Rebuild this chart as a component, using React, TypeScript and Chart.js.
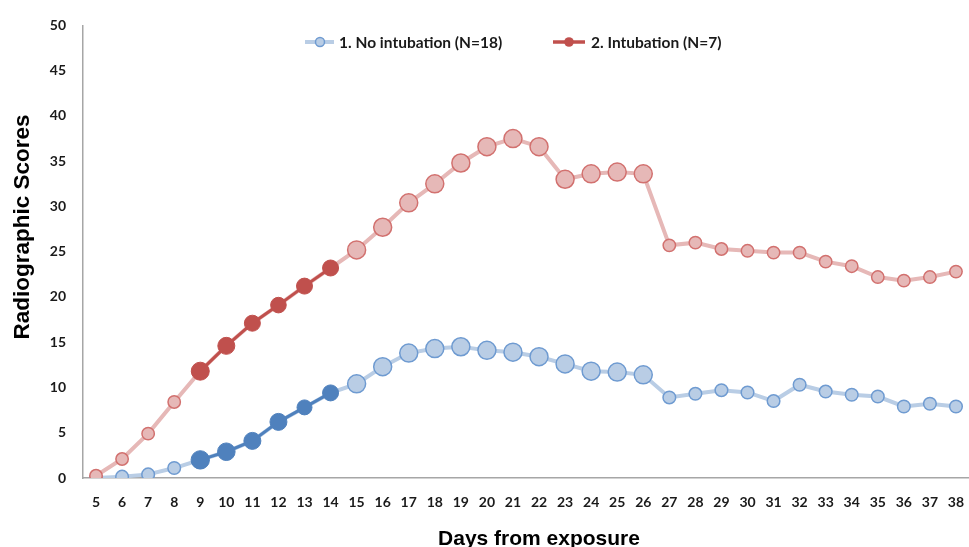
import React, { useEffect, useRef } from "react";
import { Chart, registerables } from "chart.js";

Chart.register(...registerables);

const days = [5, 6, 7, 8, 9, 10, 11, 12, 13, 14, 15, 16, 17, 18, 19, 20, 21, 22, 23, 24, 25, 26, 27, 28, 29, 30, 31, 32, 33, 34, 35, 36, 37, 38];
const noIntubation = [0, 0.15, 0.4, 1.1, 2.0, 2.9, 4.1, 6.2, 7.8, 9.4, 10.4, 12.3, 13.8, 14.3, 14.5, 14.1, 13.9, 13.4, 12.6, 11.8, 11.7, 11.4, 8.9, 9.3, 9.7, 9.45, 8.5, 10.3, 9.55, 9.2, 9.0, 7.9, 8.2, 7.9];
const intubation = [0.25, 2.1, 4.9, 8.4, 11.8, 14.6, 17.1, 19.1, 21.2, 23.2, 25.2, 27.7, 30.4, 32.5, 34.8, 36.6, 37.5, 36.6, 33.0, 33.6, 33.8, 33.6, 25.7, 26.0, 25.3, 25.1, 24.9, 24.9, 23.9, 23.4, 22.2, 21.8, 22.2, 22.8];
const highlightDays = [9, 10, 11, 12, 13, 14];
const yTicks = [0, 5, 10, 15, 20, 25, 30, 35, 40, 45, 50];
const seriesNames = ["1. No intubation (N=18)", "2. Intubation (N=7)"];
const xTitle = "Days from exposure";
const yTitle = "Radiographic Scores";

// styles (point sizes per day)
const lightRadius = (big: number, small: number) =>
  days.map((d) => (highlightDays.includes(d) ? 0 : d >= 15 && d <= 26 ? big : small));
const darkRedRadius = [9, 8.5, 8, 7.8, 8, 8];
const darkBlueRadius = [9.2, 8.8, 8.5, 8.5, 7.5, 8];

const C = {
  lightRed: "#e6b8b7",
  lightRedBorder: "#d2716f",
  darkRed: "#c0504d",
  lightBlue: "#b9cde5",
  lightBlueBorder: "#6f9bd1",
  darkBlue: "#4f81bd",
  axis: "#a6a6a6",
  text: "#1a1a1a",
};

const highlight = (arr: number[]) =>
  arr.map((v, i) => (highlightDays.includes(days[i]) ? v : null));
const highlightRadius = (r: number[]) => {
  let k = 0;
  return days.map((d) => (highlightDays.includes(d) ? r[k++] : 0));
};

const overlayPlugin = {
  id: "overlay",
  afterDraw(chart: any) {
    const ctx = chart.ctx as CanvasRenderingContext2D;
    ctx.save();
    // legend
    const ly = 42;
    ctx.lineCap = "butt";
    ctx.strokeStyle = C.lightBlue;
    ctx.lineWidth = 4;
    ctx.beginPath();
    ctx.moveTo(305, ly);
    ctx.lineTo(334, ly);
    ctx.stroke();
    ctx.beginPath();
    ctx.arc(320, ly, 4.5, 0, Math.PI * 2);
    ctx.fillStyle = C.lightBlue;
    ctx.fill();
    ctx.lineWidth = 1.5;
    ctx.strokeStyle = C.lightBlueBorder;
    ctx.stroke();

    ctx.strokeStyle = C.darkRed;
    ctx.lineWidth = 3.5;
    ctx.beginPath();
    ctx.moveTo(553, ly);
    ctx.lineTo(585, ly);
    ctx.stroke();
    ctx.beginPath();
    ctx.arc(569, ly, 4.8, 0, Math.PI * 2);
    ctx.fillStyle = C.darkRed;
    ctx.fill();

    ctx.fillStyle = C.text;
    ctx.font = 'bold 15.5px Lato';
    ctx.textAlign = "left";
    ctx.textBaseline = "middle";
    ctx.fillText(seriesNames[0], 339, ly + 1);
    ctx.fillText(seriesNames[1], 591, ly + 1);

    // axis titles
    ctx.fillStyle = "#000";
    ctx.font = 'bold 21px "Liberation Sans"';
    ctx.textAlign = "center";
    ctx.textBaseline = "alphabetic";
    ctx.fillText(xTitle, 539, 545);

    ctx.translate(28.5, 227);
    ctx.rotate(-Math.PI / 2);
    ctx.font = 'bold 22.5px "Liberation Sans"';
    ctx.fillText(yTitle, 0, 0);
    ctx.restore();
  },
};

export default function App() {
  const ref = useRef<HTMLCanvasElement | null>(null);
  useEffect(() => {
    if (!ref.current) return;
    const chart = new Chart(ref.current, {
      type: "line",
      data: {
        labels: days.map(String),
        datasets: [
          {
            label: seriesNames[1] + " (highlight)",
            data: highlight(intubation),
            borderColor: C.darkRed,
            backgroundColor: C.darkRed,
            pointBackgroundColor: C.darkRed,
            pointBorderColor: C.darkRed,
            borderWidth: 3,
            pointBorderWidth: 1,
            pointRadius: highlightRadius(darkRedRadius),
            spanGaps: false,
            order: 0,
          },
          {
            label: seriesNames[1],
            data: intubation,
            borderColor: C.lightRed,
            backgroundColor: C.lightRed,
            pointBackgroundColor: C.lightRed,
            pointBorderColor: C.lightRedBorder,
            borderWidth: 4,
            pointBorderWidth: 1.5,
            pointRadius: lightRadius(9, 6.2),
            order: 1,
          },
          {
            label: seriesNames[0] + " (highlight)",
            data: highlight(noIntubation),
            borderColor: C.darkBlue,
            backgroundColor: C.darkBlue,
            pointBackgroundColor: C.darkBlue,
            pointBorderColor: C.darkBlue,
            borderWidth: 3,
            pointBorderWidth: 1,
            pointRadius: highlightRadius(darkBlueRadius),
            spanGaps: false,
            order: 2,
          },
          {
            label: seriesNames[0],
            data: noIntubation,
            borderColor: C.lightBlue,
            backgroundColor: C.lightBlue,
            pointBackgroundColor: C.lightBlue,
            pointBorderColor: C.lightBlueBorder,
            borderWidth: 4,
            pointBorderWidth: 1.5,
            pointRadius: lightRadius(9, 6.3),
            order: 3,
          },
        ],
      },
      options: {
        responsive: false,
        animation: false,
        layout: { autoPadding: false, padding: { top: 18, left: 0, right: 0, bottom: 0 } },
        plugins: {
          legend: { display: false },
          tooltip: { enabled: false },
        },
        elements: { line: { tension: 0 }, point: { hoverRadius: 0 } },
        scales: {
          x: {
            type: "category",
            offset: true,
            grid: { display: false, drawTicks: false, tickLength: 0 },
            border: { display: true, color: C.axis, width: 1.5 },
            ticks: {
              color: C.text,
              font: { family: "Lato", size: 14, weight: "bold" },
              padding: 16,
              autoSkip: false,
              maxRotation: 0,
            },
            afterFit(scale: any) {
              scale.height = 69;
              scale.paddingLeft = 0;
              scale.paddingRight = 0;
            },
          },
          y: {
            min: 0,
            max: 50,
            grid: { display: false, drawTicks: false, tickLength: 0 },
            border: { display: true, color: C.axis, width: 1.5 },
            afterBuildTicks(scale: any) {
              scale.ticks = yTicks.map((v) => ({ value: v }));
            },
            ticks: {
              color: C.text,
              font: { family: "Lato", size: 14, weight: "bold" },
              padding: 17,
            },
            afterFit(scale: any) {
              scale.width = 83;
            },
          },
        },
      },
      plugins: [overlayPlugin],
    });
    return () => chart.destroy();
  }, []);
  return (
    <div style={{ position: "absolute", left: 0, top: 0, width: 969, height: 547, background: "#fff" }}>
      <canvas ref={ref} width={969} height={547} style={{ display: "block" }} />
    </div>
  );
}
